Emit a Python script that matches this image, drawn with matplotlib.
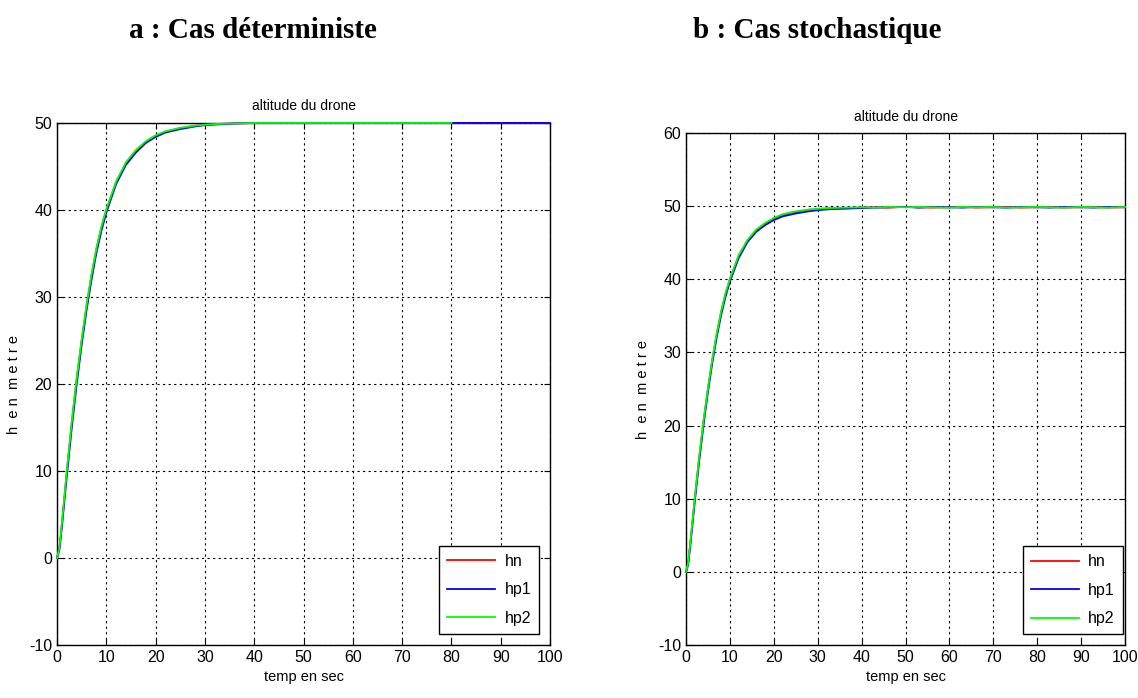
import numpy as np
import matplotlib
matplotlib.use("Agg")
import matplotlib.pyplot as plt

plt.rcParams['font.family'] = ['Liberation Sans Narrow', 'Liberation Sans', 'DejaVu Sans']
plt.rcParams['axes.unicode_minus'] = False

# --- data ---
# a : deterministic case
t_det = [0, 0.5, 1, 2, 3, 4, 5, 6, 7, 8, 9, 10, 12, 14, 16, 18, 20, 22, 25, 28,
         30, 33, 36, 40, 50, 60, 70, 80, 90, 100]
hn_det = [0, 1.2, 4.0, 10.0, 15.6, 20.6, 25.0, 29.0, 32.5, 35.5, 38.0, 40.0, 43.2, 45.4,
          46.8, 47.8, 48.5, 49.0, 49.4, 49.7, 49.8, 49.9, 49.95, 50, 50, 50, 50, 50, 50, 50]
hp1_det = [0, 1.0, 3.6, 9.5, 15.0, 20.0, 24.5, 28.5, 32.0, 35.1, 37.6, 39.7, 43.0, 45.2,
           46.6, 47.7, 48.4, 48.9, 49.3, 49.6, 49.75, 49.85, 49.95, 50, 50, 50, 50, 50, 50, 50]
hp2_det = [0, 1.2, 4.1, 10.1, 15.7, 20.7, 25.1, 29.1, 32.6, 35.6, 38.1, 40.1, 43.3, 45.5,
           46.9, 47.9, 48.6, 49.05, 49.45, 49.7, 49.8, 49.9, 49.95, 50, 50, 50, 50, 50]
t_det_p2 = t_det[:len(hp2_det)]

# b : stochastic case
t_sto = [0, 0.5, 1, 2, 3, 4, 5, 6, 7, 8, 9, 10, 12, 14, 16, 18, 20, 22, 25, 28,
         30, 33, 36, 40, 43, 46, 50, 53, 56, 60, 63, 66, 70, 73, 76, 80, 83, 86, 90, 93, 96, 100]
hn_sto = [0, 1.2, 4.0, 10.0, 15.6, 20.6, 25.0, 29.0, 32.5, 35.5, 38.0, 40.0, 43.2, 45.3,
          46.7, 47.6, 48.3, 48.8, 49.2, 49.5, 49.6, 49.7, 49.75, 49.8, 49.85, 49.8, 49.9, 49.85,
          49.8, 49.85, 49.9, 49.8, 49.85, 49.9, 49.8, 49.85, 49.9, 49.8, 49.85, 49.9, 49.8, 49.85]
hp1_sto = [0, 1.0, 3.7, 9.6, 15.1, 20.1, 24.6, 28.6, 32.1, 35.1, 37.6, 39.7, 42.9, 45.1,
           46.5, 47.4, 48.1, 48.6, 49.0, 49.3, 49.45, 49.6, 49.65, 49.75, 49.8, 49.85, 49.9, 49.8,
           49.9, 49.85, 49.8, 49.9, 49.85, 49.8, 49.9, 49.85, 49.8, 49.9, 49.85, 49.8, 49.9, 49.85]
hp2_sto = [0, 1.2, 4.1, 10.1, 15.7, 20.7, 25.1, 29.1, 32.6, 35.6, 38.1, 40.1, 43.3, 45.4,
           46.8, 47.7, 48.4, 48.9, 49.3, 49.55, 49.65, 49.75, 49.8, 49.85, 49.8, 49.9, 49.85, 49.9,
           49.85, 49.8, 49.9, 49.85, 49.9, 49.8, 49.85, 49.9, 49.85, 49.8, 49.9, 49.85, 49.8, 49.9]

fig = plt.figure(figsize=(11.38, 6.98), dpi=100)

fig.text(0.222, 0.957, "a : Cas déterministe", ha='center', va='center',
         family='Liberation Serif', weight='bold', fontsize=21)
fig.text(0.718, 0.957, "b : Cas stochastique", ha='center', va='center',
         family='Liberation Serif', weight='bold', fontsize=21)


def style_axes(ax, ylim, yticks):
    ax.set_xlim(0, 100)
    ax.set_ylim(*ylim)
    ax.set_xticks(np.arange(0, 101, 10))
    ax.set_yticks(yticks)
    ax.grid(True, color='black', linestyle=(0, (2, 3)), linewidth=0.8)
    ax.tick_params(direction='in', top=True, right=True, labelsize=11.5, length=4)
    for s in ax.spines.values():
        s.set_linewidth(1.0)
    ax.set_title("altitude du drone", fontsize=10, pad=9)
    ax.set_xlabel("temp en sec", fontsize=10.5, labelpad=4)
    ax.set_ylabel("h  e n  m e t r e", fontsize=10.5, labelpad=6)


def add_legend(ax, anchor):
    leg = ax.legend(loc='lower right', bbox_to_anchor=anchor, borderaxespad=0,
                    fontsize=11.5, handlelength=3.0, handletextpad=0.6,
                    fancybox=False, framealpha=1, edgecolor='black',
                    borderpad=0.5, labelspacing=0.85)
    leg.get_frame().set_linewidth(1.0)
    return leg


line_kw = dict(lw=1.3, zorder=3, clip_on=False)

# left panel
ax1 = fig.add_axes([0.0501, 0.0759, 0.4332, 0.7479])
ax1.plot(t_det, hn_det, color='red', label='hn', **line_kw)
ax1.plot(t_det, hp1_det, color='blue', label='hp1', **line_kw)
ax1.plot(t_det_p2, hp2_det, color='#00ff00', label='hp2', **line_kw)
style_axes(ax1, (-10, 50), np.arange(-10, 51, 10))
add_legend(ax1, (0.978, 0.021))

# right panel
ax2 = fig.add_axes([0.6028, 0.0759, 0.3858, 0.7335])
ax2.plot(t_sto, hn_sto, color='red', label='hn', **line_kw)
ax2.plot(t_sto, hp1_sto, color='blue', label='hp1', **line_kw)
ax2.plot(t_sto, hp2_sto, color='#00ff00', label='hp2', **line_kw)
style_axes(ax2, (-10, 60), np.arange(-10, 61, 10))
add_legend(ax2, (0.995, 0.021))

fig.savefig("out.png", dpi=100)
